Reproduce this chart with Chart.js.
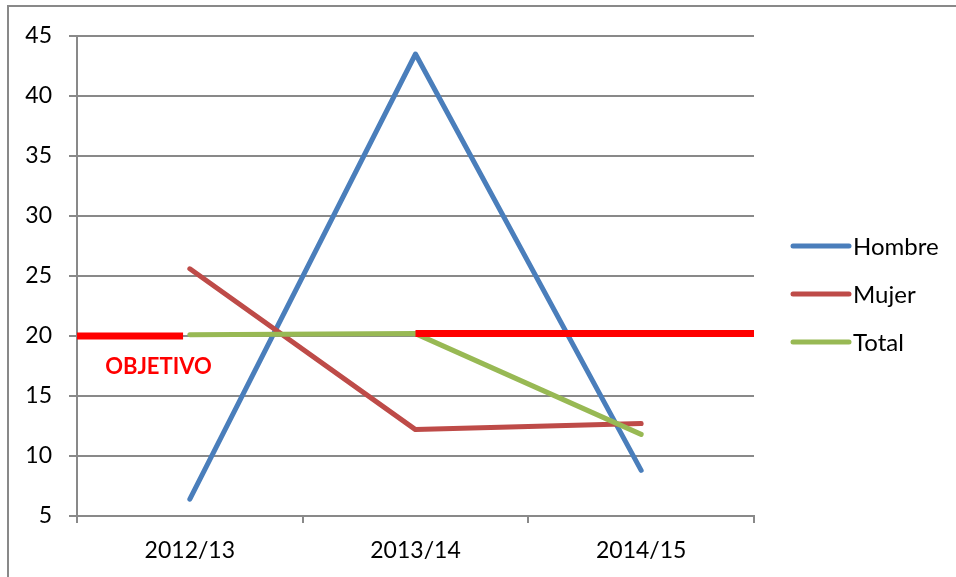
<!DOCTYPE html>
<html>
<head>
<meta charset="utf-8">
<script src="https://cdn.jsdelivr.net/npm/chart.js@4.4.1/dist/chart.umd.min.js"></script>
<style>
    html, body { margin: 0; padding: 0; background: #fff; overflow: hidden; }
    #wrap { position: relative; width: 956px; height: 577px; }
    #frame {
        position: absolute; left: 7px; top: 5px; right: -10px; bottom: -10px;
        border-top: 2px solid #898989; border-left: 2px solid #898989;
    }
    canvas { position: absolute; left: 0; top: 0; }
</style>
</head>
<body>
<div id="wrap">
    <div id="frame"></div>
    <canvas id="chart" width="956" height="577"></canvas>
</div>
<script>
// --- Data ---
const categories = ['2012/13', '2013/14', '2014/15'];
const hombre = [6.4, 43.5, 8.8];
const mujer = [25.6, 12.2, 12.7];
const total = [20.1, 20.2, 11.8];
const objetivo = [20, 20.2];          // left stub, right segment
const objetivoLabel = 'OBJETIVO';
const yTicks = [5, 10, 15, 20, 25, 30, 35, 40, 45];

const seriesNames = ['Hombre', 'Mujer', 'Total'];
const seriesColors = ['#4A7EBB', '#BE4B48', '#98B954'];

const GRID = '#898989';
const FONT = 'Lato';

// Objective line drawn on a hidden linear axis spanning the whole plot width
const objetivoPoints = [
    { x: 0, y: objetivo[0] },
    { x: 0.47, y: objetivo[0] },
    { x: 1, y: null },
    { x: 1.5, y: objetivo[1] },
    { x: 3, y: objetivo[1] }
];

// --- Legend + label plugin ---
const extras = {
    id: 'extras',
    afterDraw(chart) {
        const ctx = chart.ctx;
        const area = chart.chartArea;
        const x2 = chart.scales.x2;
        const y = chart.scales.y;

        // OBJETIVO text
        ctx.save();
        ctx.font = 'bold 22px ' + FONT;
        ctx.fillStyle = '#FF0000';
        ctx.textAlign = 'left';
        ctx.textBaseline = 'middle';
        ctx.fillText(objetivoLabel, x2.getPixelForValue(0.125), y.getPixelForValue(17.4));
        ctx.restore();

        // legend
        ctx.save();
        const lx = area.right + 39;
        seriesNames.forEach((name, i) => {
            const ly = 246 + i * 48;
            ctx.strokeStyle = seriesColors[i];
            ctx.lineWidth = 5;
            ctx.lineCap = 'round';
            ctx.beginPath();
            ctx.moveTo(lx, ly);
            ctx.lineTo(lx + 56, ly);
            ctx.stroke();
            ctx.fillStyle = '#000';
            ctx.font = '24px ' + FONT;
            ctx.textBaseline = 'middle';
            ctx.fillText(name, lx + 60, ly + 1);
        });
        ctx.restore();
    }
};

const seriesData = [hombre, mujer, total];

const datasets = seriesNames.map((name, i) => ({
    label: name,
    data: seriesData[i],
    borderColor: seriesColors[i],
    backgroundColor: seriesColors[i],
    borderWidth: 5,
    borderCapStyle: 'round',
    borderJoinStyle: 'round',
    pointRadius: 0,
    tension: 0,
    order: 3 - i
}));

datasets.push({
    label: 'Objetivo',
    data: objetivoPoints,
    xAxisID: 'x2',
    borderColor: '#FF0000',
    borderWidth: 7,
    borderCapStyle: 'butt',
    pointRadius: 0,
    spanGaps: false,
    order: 0
});

new Chart(document.getElementById('chart'), {
    type: 'line',
    data: { labels: categories, datasets },
    options: {
        responsive: false,
        animation: false,
        layout: { padding: { left: 0, top: 36, right: 202, bottom: 0 } },
        plugins: {
            legend: { display: false },
            tooltip: { enabled: false }
        },
        scales: {
            x: {
                type: 'category',
                offset: true,
                grid: {
                    offset: true,
                    drawOnChartArea: false,
                    drawTicks: true,
                    tickLength: 7,
                    color: GRID,
                    lineWidth: 2
                },
                border: { display: true, color: GRID, width: 2 },
                ticks: {
                    color: '#000',
                    padding: 14,
                    font: { family: FONT, size: 23 },
                    maxRotation: 0
                },
                afterFit(scale) { scale.height = 61; }
            },
            x2: {
                type: 'linear',
                display: false,
                min: 0,
                max: 3
            },
            y: {
                min: yTicks[0],
                max: yTicks[yTicks.length - 1],
                grid: {
                    color: GRID,
                    lineWidth: 2,
                    tickLength: 8
                },
                border: { display: true, color: GRID, width: 2 },
                ticks: {
                    stepSize: 5,
                    color: '#000',
                    padding: 17,
                    font: { family: FONT, size: 23 }
                },
                afterFit(scale) { scale.width = 77; }
            }
        }
    },
    plugins: [extras]
});
</script>
</body>
</html>
